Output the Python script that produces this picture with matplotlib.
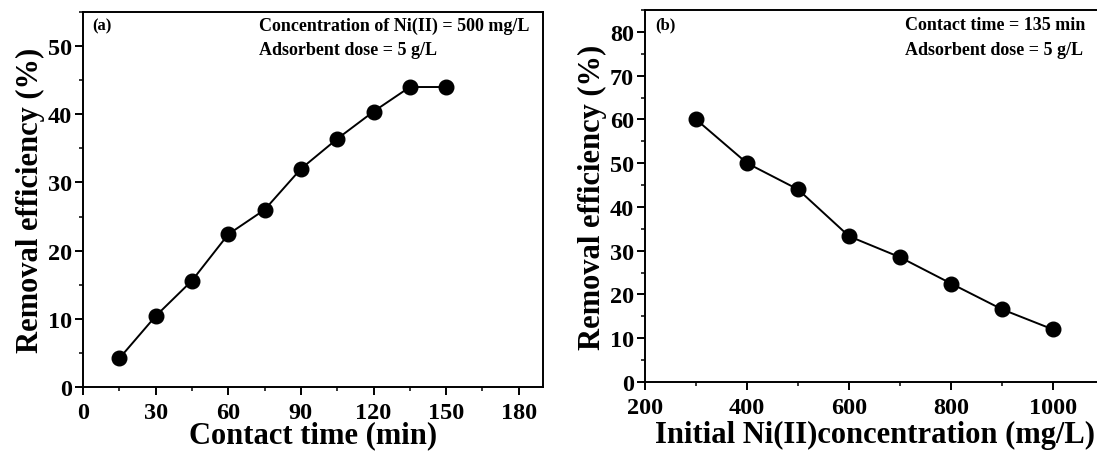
import matplotlib
matplotlib.use("Agg")
import matplotlib.pyplot as plt
from matplotlib.ticker import MultipleLocator

plt.rcParams['font.family'] = ['Liberation Serif']
plt.rcParams['font.weight'] = 'bold'

time_min = [15, 30, 45, 60, 75, 90, 105, 120, 135, 150]
eff_time = [4.2, 10.4, 15.6, 22.4, 26.0, 32.0, 36.4, 40.4, 44.0, 44.0]

conc = [300, 400, 500, 600, 700, 800, 900, 1000]
eff_conc = [60.0, 50.0, 44.0, 33.3, 28.5, 22.5, 16.6, 12.0]

fig = plt.figure(figsize=(10.97, 4.52), dpi=100)
ax1 = fig.add_axes([0.0757, 0.1416, 0.4193, 0.8296])
ax2 = fig.add_axes([0.588, 0.1527, 0.4184, 0.823])

def style(ax):
    for s in ax.spines.values():
        s.set_linewidth(1.4)
    ax.tick_params(which='major', direction='out', length=5.5, width=1.4, labelsize=17.5)
    ax.tick_params(axis='x', which='major', pad=5)
    ax.tick_params(axis='y', which='major', pad=2.5)
    ax.tick_params(which='minor', direction='out', length=3, width=1.1)
    for lab in ax.get_xticklabels() + ax.get_yticklabels():
        lab.set_fontweight('bold')

ax1.plot(time_min, eff_time, '-o', color='black', lw=1.4, ms=10.5)
ax1.set_xlim(0, 190)
ax1.set_ylim(0, 55)
ax1.xaxis.set_major_locator(MultipleLocator(30))
ax1.xaxis.set_minor_locator(MultipleLocator(15))
ax1.yaxis.set_major_locator(MultipleLocator(10))
ax1.yaxis.set_minor_locator(MultipleLocator(5))
style(ax1)
ax1.set_xlabel('Contact time (min)', fontsize=22, fontweight='bold', labelpad=-1.5)
ax1.set_ylabel('Removal efficiency (%)', fontsize=22, fontweight='bold', labelpad=2)
ax1.text(0.02, 0.965, '(a)', transform=ax1.transAxes, fontsize=12, fontweight='bold', va='center', ha='left')
ax1.text(0.383, 0.965, 'Concentration of Ni(II) = 500 mg/L',
         transform=ax1.transAxes, fontsize=13, fontweight='bold', va='center', ha='left')
ax1.text(0.383, 0.901, 'Adsorbent dose = 5 g/L',
         transform=ax1.transAxes, fontsize=13, fontweight='bold', va='center', ha='left')

ax2.plot(conc, eff_conc, '-o', color='black', lw=1.4, ms=10.5)
ax2.set_xlim(200, 1100)
ax2.set_ylim(0, 85)
ax2.xaxis.set_major_locator(MultipleLocator(200))
ax2.xaxis.set_minor_locator(MultipleLocator(100))
ax2.yaxis.set_major_locator(MultipleLocator(10))
ax2.yaxis.set_minor_locator(MultipleLocator(5))
style(ax2)
ax2.set_xticks([200, 400, 600, 800, 1000])
ax2.set_xlabel('Initial Ni(II)concentration (mg/L)', fontsize=22, fontweight='bold', labelpad=2)
ax2.set_ylabel('Removal efficiency (%)', fontsize=22, fontweight='bold', labelpad=2)
ax2.text(0.022, 0.960, '(b)', transform=ax2.transAxes, fontsize=12, fontweight='bold', va='center', ha='left')
ax2.text(0.566, 0.960, 'Contact time = 135 min',
         transform=ax2.transAxes, fontsize=13, fontweight='bold', va='center', ha='left')
ax2.text(0.566, 0.895, 'Adsorbent dose = 5 g/L',
         transform=ax2.transAxes, fontsize=13, fontweight='bold', va='center', ha='left')

fig.savefig('out.png', dpi=100)
